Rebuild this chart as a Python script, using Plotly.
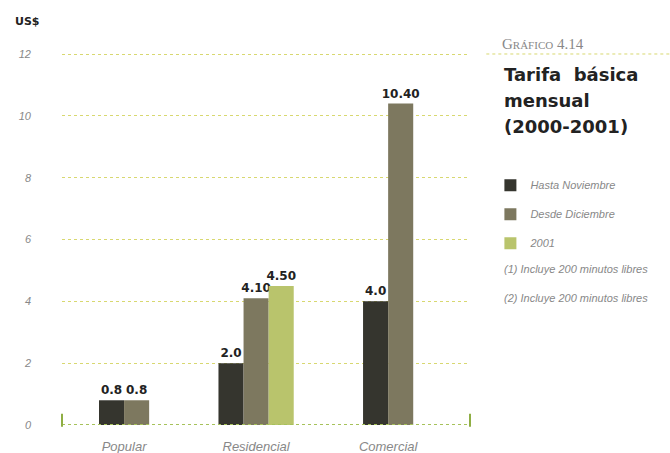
import plotly.graph_objects as go

categories = ["Popular", "Residencial", "Comercial"]
series_names = ["Hasta Noviembre", "Desde Diciembre", "2001"]
hasta_nov = [0.8, 2.0, 4.0]
desde_dic = [0.8, 4.1, 10.4]
anio_2001 = [None, 4.5, None]
hasta_nov_lbl = ["0.8", "2.0", "4.0"]
desde_dic_lbl = ["0.8", "4.10", "10.40"]
anio_2001_lbl = ["", "4.50", ""]
y_ticks = [0, 2, 4, 6, 8, 10, 12]
title_lines = ["Tarifa  básica", "mensual", "(2000-2001)"]
footnotes = ["(1) Incluye 200 minutos libres", "(2) Incluye 200 minutos libres"]

series = [hasta_nov, desde_dic, anio_2001]
labels = [hasta_nov_lbl, desde_dic_lbl, anio_2001_lbl]
colors = ["#35352e", "#7d785f", "#b9c46c"]

W = 0.19
# center the present bars of each category on the category
offsets = [[None] * len(categories) for _ in series]
for i in range(len(categories)):
    present = [s for s in range(len(series)) if series[s][i] is not None]
    n = len(present)
    for k, s in enumerate(present):
        offsets[s][i] = -n * W / 2 + k * W

fig = go.Figure()
for s, (vals, name) in enumerate(zip(series, series_names)):
    fig.add_trace(go.Bar(
        x=categories, y=vals, name=name,
        width=W, offset=[o if o is not None else 0 for o in offsets[s]],
        marker=dict(color=colors[s], line=dict(width=0)),
        text=labels[s], textposition="outside", cliponaxis=False, constraintext="none",
        textfont=dict(family="DejaVu Sans", size=12, color="#222222", weight="bold"),
        legendgroup=str(s),
    ))

fig.update_layout(
    width=670, height=453,
    margin=dict(l=62, r=200, t=51, b=28, autoexpand=False),
    paper_bgcolor="white", plot_bgcolor="white",
    barmode="overlay",
    showlegend=True,
    legend=dict(x=1.05, y=0.68, xanchor="left", yanchor="top",
                font=dict(family="Liberation Sans", size=11, color="#888888", style="italic"),
                tracegroupgap=10, bgcolor="rgba(0,0,0,0)"),
    xaxis=dict(range=[-0.47, 2.62], showgrid=False, zeroline=False, showline=False,
               tickfont=dict(family="Liberation Sans", size=13, color="#888888", style="italic"),
               ticks="", ticklabelstandoff=12),
    yaxis=dict(range=[0, 12.1], tickvals=y_ticks, showgrid=True, gridcolor="#d8d870",
               griddash="dot", gridwidth=1, zeroline=False, showline=False,
               tickfont=dict(family="Liberation Sans", size=11, color="#888888", style="italic"),
               ticklabelstandoff=30),
    font=dict(family="DejaVu Sans"),
)

# x axis baseline with end ticks
fig.add_shape(type="line", xref="paper", yref="y", x0=0, x1=1, y0=0, y1=0,
              line=dict(color="#a6c25a", width=2, dash="dot"))
for xp in (0, 1):
    fig.add_shape(type="line", xref="paper", yref="paper", x0=xp, x1=xp, y0=-0.005, y1=0.03,
                  line=dict(color="#8fae44", width=2))
# rule under the chart number
fig.add_shape(type="line", xref="paper", yref="paper", x0=1.04, x1=1.5, y0=0.992, y1=0.992,
              line=dict(color="#d8d870", width=1, dash="dot"))

fig.add_annotation(xref="paper", yref="paper", x=-0.12, y=1.08, xanchor="left", yanchor="middle",
                   text="<b>US$</b>", showarrow=False,
                   font=dict(family="DejaVu Sans", size=11, color="#222222"))
fig.add_annotation(xref="paper", yref="paper", x=1.074, y=1.02, xanchor="left", yanchor="middle",
                   text="G<span style='font-size:11px'>RÁFICO</span> 4.14", showarrow=False,
                   font=dict(family="Liberation Serif", size=15, color="#888888"))
for j, line in enumerate(title_lines):
    fig.add_annotation(xref="paper", yref="paper", x=1.078, y=0.937 - j * 0.07, xanchor="left",
                       yanchor="middle", text="<b>" + line + "</b>", showarrow=False,
                       font=dict(family="DejaVu Sans", size=18, color="#222222"))
for j, fn in enumerate(footnotes):
    fig.add_annotation(xref="paper", yref="paper", x=1.078, y=0.417 - j * 0.078, xanchor="left",
                       yanchor="middle", text=fn, showarrow=False,
                       font=dict(family="Liberation Sans", size=11, color="#888888", style="italic"))

fig.write_html("out.html", config={"displayModeBar": False},
               post_script="document.body.style.margin='0';")
